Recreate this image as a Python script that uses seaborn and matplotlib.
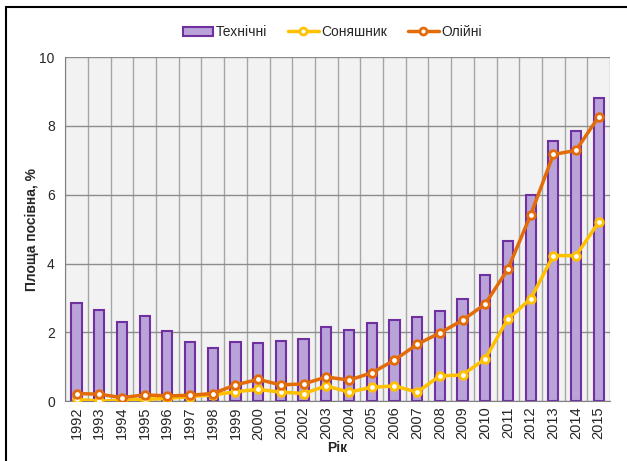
import numpy as np
import pandas as pd
import matplotlib.pyplot as plt
import matplotlib.patches as mpatches
from matplotlib.lines import Line2D
import seaborn as sns

# Дані
roky = [str(r) for r in range(1992, 2016)]
tekhnichni = [2.84, 2.64, 2.3, 2.46, 2.05, 1.72, 1.53, 1.72, 1.7, 1.75, 1.8, 2.15,
              2.08, 2.27, 2.35, 2.45, 2.61, 2.96, 3.67, 4.66, 6.0, 7.57, 7.86, 8.82]
soniashnyk = [0.05, 0.0, 0.02, 0.05, 0.08, 0.13, 0.18, 0.27, 0.34, 0.26, 0.22, 0.44,
              0.26, 0.4, 0.44, 0.26, 0.73, 0.76, 1.23, 2.39, 2.97, 4.23, 4.23, 5.2]
oliini = [0.22, 0.2, 0.1, 0.18, 0.15, 0.17, 0.22, 0.47, 0.63, 0.47, 0.5, 0.7,
          0.61, 0.82, 1.19, 1.65, 1.98, 2.35, 2.82, 3.84, 5.41, 7.17, 7.29, 8.27]

df = pd.DataFrame({"Рік": roky, "Технічні": tekhnichni,
                   "Соняшник": soniashnyk, "Олійні": oliini})
df["pos"] = np.arange(len(df))

sns.set_style("white")
plt.rcParams['font.family'] = ['Liberation Sans', 'DejaVu Sans']

fig = plt.figure(figsize=(6.27, 4.61), dpi=100)
ax = fig.add_axes([0.104, 0.130, 0.869, 0.746])
ax.set_facecolor("#f2f2f2")

c_bar = "#b9a3d9"
c_edge = "#7030a0"
c_sun = "#ffc000"
c_oil = "#e36c09"

sns.barplot(data=df, x="Рік", y="Технічні", color=c_bar, width=0.45,
            edgecolor=c_edge, linewidth=1.5, saturation=1, ax=ax, zorder=2)
for p in ax.patches:
    p.set_facecolor(c_bar)

ax.plot(df["pos"], df["Соняшник"], color=c_sun, lw=2.5, marker="o", ms=5.5,
        mfc="white", mec=c_sun, mew=2, zorder=3)
ax.plot(df["pos"], df["Олійні"], color=c_oil, lw=2.5, marker="o", ms=5.5,
        mfc="white", mec=c_oil, mew=2, zorder=4)

ax.set_xlim(-0.5, len(roky) - 0.5)
ax.set_ylim(0, 10)
ax.set_yticks([0, 2, 4, 6, 8, 10])
ax.set_xticks(df["pos"])
ax.set_xticklabels(roky, rotation=90, fontsize=10.5)
ax.tick_params(axis="y", labelsize=10, length=4, color="#808080")
ax.tick_params(axis="x", length=0, pad=4)

# сітка
ax.set_xticks(np.arange(-0.5, len(roky), 1), minor=True)
ax.tick_params(axis="x", which="minor", length=4, color="#808080")
ax.grid(True, which="minor", axis="x", color="#a6a6a6", lw=1, zorder=0)
ax.grid(True, which="major", axis="y", color="#8c8c8c", lw=1, zorder=0)
ax.set_axisbelow(True)

for s in ["top", "right"]:
    ax.spines[s].set_visible(False)
ax.spines["left"].set_color("#808080")
ax.spines["bottom"].set_color("#808080")

ax.set_xlabel("Рік", fontweight="bold", fontsize=10, labelpad=1)
ax.set_ylabel("Площа посівна, %", fontweight="bold", fontsize=10, labelpad=0)

handles = [mpatches.Patch(facecolor=c_bar, edgecolor=c_edge, lw=1.5),
           Line2D([], [], color=c_sun, lw=2.5, marker="o", ms=5, mfc="white", mec=c_sun, mew=2),
           Line2D([], [], color=c_oil, lw=2.5, marker="o", ms=5, mfc="white", mec=c_oil, mew=2)]
fig.legend(handles, ["Технічні", "Соняшник", "Олійні"], loc="center",
           bbox_to_anchor=(0.53, 0.93), ncol=3, frameon=False, fontsize=10,
           handlelength=2.2, handletextpad=0.2, columnspacing=1.5)

# рамка
fig.patches.append(mpatches.Rectangle((0.0096, -0.1), 1.2, 1.085, transform=fig.transFigure,
                                      fill=False, edgecolor="black", lw=1.5))

fig.savefig("out.png", dpi=100)
